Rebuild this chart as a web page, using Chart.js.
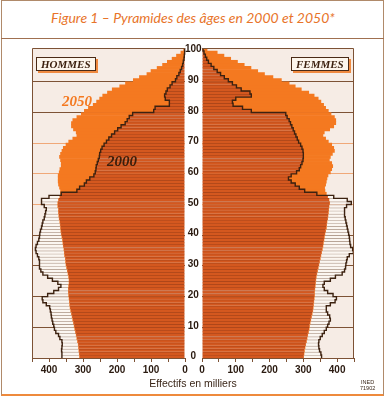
<!DOCTYPE html>
<html>
<head>
<meta charset="utf-8">
<script src="https://cdn.jsdelivr.net/npm/chart.js@4.4.0/dist/chart.umd.min.js"></script>
<style>
body { margin: 0; background: #fff; }
#wrap { position: relative; width: 386px; height: 399px; overflow: hidden; background: #fff; font-family: "Liberation Sans", Arial, sans-serif; }
#frame { position: absolute; left: 1px; top: 0; width: 381px; height: 393px; border: 1px solid #b08a6a; border-bottom: 2px solid #ee8a3c; }
#titlebar { position: absolute; left: 1px; top: 0; width: 383px; height: 38px; border-bottom: 1px solid #a07050; }
#title { position: absolute; left: 0; top: 9px; width: 386px; text-align: center; font-family: Lato, "Open Sans", sans-serif; font-style: italic; font-size: 14px; color: #e8742a; }
canvas { position: absolute; }
#cLeft { left: 0; top: 40px; }
#cRight { left: 190px; top: 40px; }
.sex { position: absolute; top: 57px; height: 12px; line-height: 12px; padding: 0 4px; border: 1px solid #4a2a15; background: #fdf6ec; box-shadow: 2px 2px 0 #f08a40; font-family: "Liberation Serif", serif; font-weight: bold; font-style: italic; font-size: 11px; color: #3a1e0c; }
.yr { position: absolute; font-family: "Liberation Serif", serif; font-weight: bold; font-style: italic; font-size: 15px; }
#xlab { position: absolute; left: 0; top: 377px; width: 386px; text-align: center; font-size: 10.5px; color: #3a2618; }
#ined { position: absolute; left: 360px; top: 380px; font-size: 5.5px; line-height: 5.5px; color: #3a2618; text-align: center; }
</style>
</head>
<body>
<div id="wrap">
  <div id="frame"></div>
  <div id="titlebar"></div>
  <div id="title">Figure 1 – Pyramides des âges en 2000 et 2050*</div>
  <canvas id="cLeft" width="202" height="345"></canvas>
  <canvas id="cRight" width="196" height="345"></canvas>
  <div class="sex" style="left:36px;">HOMMES</div>
  <div class="sex" style="left:291px;">FEMMES</div>
  <div class="yr" style="left:62px; top:93px; color:#f47920;">2050</div>
  <div class="yr" style="left:107px; top:153px; color:#3a1e0c;">2000</div>
  <div id="xlab">Effectifs en milliers</div>
  <div id="ined">INED<br>71902</div>
</div>
<script>
// ages 0..100
let ages = [0,1,2,3,4,5,6,7,8,9,10,11,12,13,14,15,16,17,18,19,20,21,22,23,24,25,26,27,28,29,30,
    31,32,33,34,35,36,37,38,39,40,41,42,43,44,45,46,47,48,49,50,51,52,53,54,55,56,57,58,59,60,
    61,62,63,64,65,66,67,68,69,70,71,72,73,74,75,76,77,78,79,80,81,82,83,84,85,86,87,88,89,90,
    91,92,93,94,95,96,97,98,99,100];

// effectifs en milliers, index = age
let men_2000 = [
    362,362,363,362,361,362,368,372,380,384,
    386,389,391,393,394,396,398,408,418,420,
    404,386,372,365,374,390,404,418,424,428,
    428,428,430,434,438,440,438,434,430,428,
    427,425,422,420,418,414,412,410,408,414,
    422,422,400,364,318,310,296,290,280,268,
    264,262,261,258,255,252,251,248,244,238,
    231,224,216,207,198,188,176,170,164,154,
    92,88,46,46,58,60,56,52,44,38,
    28,24,18,14,10,7,5,3,2,1,1];
let men_2050 = [
    310,311,312,313,314,316,318,320,322,324,
    326,328,330,332,334,336,338,339,340,341,
    342,343,343,342,341,341,342,344,346,348,
    350,351,352,354,355,356,358,359,360,362,
    364,365,366,367,368,370,371,372,372,374,
    374,372,368,366,366,369,372,373,373,373,
    370,368,364,364,366,369,366,362,358,350,
    342,330,318,320,328,334,334,330,318,305,
    296,284,270,260,251,242,228,214,192,175,
    152,134,112,100,82,66,52,38,25,12,4];
let women_2000 = [
    354,352,348,346,345,346,350,356,362,368,
    372,376,380,378,372,368,368,380,394,398,
    388,372,362,358,362,380,395,415,422,425,
    426,428,430,436,448,446,440,438,437,436,
    434,432,430,428,426,424,422,422,422,428,
    442,430,390,340,304,288,276,264,256,264,
    280,288,292,296,299,300,300,299,296,292,
    286,282,278,274,270,266,262,258,252,248,
    146,120,92,90,100,146,142,116,102,90,
    78,66,55,45,35,27,19,14,10,6,3];
let women_2050 = [
    301,302,303,305,307,309,311,313,315,317,
    318,320,322,324,326,328,329,330,331,332,
    333,333,334,335,336,337,338,340,342,344,
    346,348,350,352,354,356,358,359,361,362,
    364,366,368,369,370,372,373,374,375,376,
    378,376,372,368,364,363,366,368,370,373,
    380,384,387,384,377,380,386,392,390,384,
    374,366,358,362,378,390,396,396,392,382,
    374,366,360,352,344,332,316,294,276,258,
    235,210,185,165,145,125,105,85,65,45,15];

let x_ticks = [0, 100, 200, 300, 400];

let col_2050 = "#f47920";
let col_both = "#d4581f";
let col_both_line = "#a8441a";
let col_2000 = "#fbf6f1";
let col_2000_line = "#a89282";
let col_brown = "#7d5235";
let col_bg = "#f6ece5";

function split_sets(v2000, v2050) {
    let both = [], only50 = [], only00 = [];
    for (let i = 0; i < v2000.length; i++) {
        both.push(Math.min(v2000[i], v2050[i]));
        only50.push(Math.max(0, v2050[i] - v2000[i]));
        only00.push(Math.max(0, v2000[i] - v2050[i]));
    }
    return [
        { data: both, backgroundColor: col_both, borderColor: col_both_line,
          borderWidth: { top: 1, right: 0, bottom: 0, left: 0 }, borderSkipped: false },
        { data: only50, backgroundColor: col_2050, borderWidth: 0 },
        { data: only00, backgroundColor: col_2000, borderColor: col_2000_line,
          borderWidth: { top: 1, right: 0, bottom: 0, left: 0 }, borderSkipped: false },
    ];
}

function grid_color(ctx) {
    let i = ctx.index;
    if (i <= 0 || i >= 100 || i % 10 !== 0) return "rgba(0,0,0,0)";
    if (i >= 50 && i <= 70) return "#f0a878";
    return col_brown;
}

// beige plot background + frame of each half
let plotFrame = {
    id: 'plotFrame',
    beforeDraw: (chart, args, options) => {
        const {ctx, chartArea: a} = chart;
        ctx.save();
        ctx.fillStyle = col_bg;
        ctx.fillRect(a.left, a.top, a.right - a.left, a.bottom - a.top);
        ctx.restore();
    },
    afterDraw: (chart, args, options) => {
        const {ctx, chartArea: a} = chart;
        ctx.save();
        ctx.strokeStyle = col_brown;
        ctx.lineWidth = 1;
        ctx.beginPath();
        let xs = options.side === 'left' ? Math.round(a.left) + 0.5 : Math.round(a.right) - 0.5;
        ctx.moveTo(xs, a.bottom);
        ctx.lineTo(xs, Math.round(a.top) + 0.5);
        ctx.lineTo(options.side === 'left' ? a.right : a.left, Math.round(a.top) + 0.5);
        ctx.stroke();
        ctx.restore();
    }
};

// step outline of the 2000 pyramid
let outline2000 = {
    id: 'outline2000',
    afterDatasetsDraw: (chart, args, options) => {
        const {ctx} = chart;
        const xs = chart.scales.x, ys = chart.scales.y;
        const vals = options.values;
        const half = Math.abs(ys.getPixelForValue(1) - ys.getPixelForValue(0)) / 2;
        ctx.save();
        ctx.strokeStyle = "#3d2210";
        ctx.lineWidth = 1.4;
        ctx.beginPath();
        for (let i = 0; i < vals.length; i++) {
            let px = xs.getPixelForValue(vals[i]);
            let py = ys.getPixelForValue(i);
            if (i === 0) ctx.moveTo(px, py + half);
            else ctx.lineTo(px, py + half);
            ctx.lineTo(px, py - half);
        }
        ctx.stroke();
        ctx.restore();
    }
};

function make_options(side, values) {
    let left = side === 'left';
    return {
        responsive: false,
        animation: false,
        devicePixelRatio: 1,
        indexAxis: 'y',
        layout: { padding: left ? { left: 32, top: 8, right: 0, bottom: 0 } : { left: 12, top: 8, right: 32, bottom: 0 } },
        datasets: { bar: { categoryPercentage: 1, barPercentage: 1 } },
        scales: {
            x: {
                type: 'linear',
                reverse: left,
                min: 0, max: 450,
                stacked: true,
                afterFit: (s) => { s.height = 27; },
                grid: { drawOnChartArea: false, drawTicks: true, tickLength: 4, color: col_brown },
                border: { display: true, color: col_brown },
                ticks: {
                    stepSize: 50,
                    autoSkip: false,
                    padding: 2,
                    color: "#2a1a10",
                    font: { family: "Liberation Sans", size: 10, weight: "bold" },
                    maxRotation: 0,
                    minRotation: 0,
                    callback: (v) => x_ticks.includes(v) ? String(v) : '',
                },
            },
            y: {
                type: 'category',
                reverse: true,
                stacked: true,
                position: left ? 'right' : 'left',
                afterFit: (s) => { s.width = left ? 17 : 0; },
                grid: { color: grid_color, drawTicks: false, lineWidth: 1 },
                border: { display: false },
                ticks: {
                    display: left,
                    autoSkip: false,
                    crossAlign: 'center',
                    padding: 0,
                    color: "#2a1a10",
                    font: { family: "Liberation Sans", size: 10, weight: "bold" },
                    callback: function (v) {
                        let a = ages[v];
                        return a % 10 === 0 ? String(a) : '';
                    },
                },
            },
        },
        plugins: {
            legend: { display: false },
            tooltip: { enabled: false },
            plotFrame: { side: side },
            outline2000: { values: values },
        },
    };
}

new Chart(document.getElementById('cLeft'), {
    type: 'bar',
    data: { labels: ages.map(String), datasets: split_sets(men_2000, men_2050) },
    options: make_options('left', men_2000),
    plugins: [plotFrame, outline2000],
});

new Chart(document.getElementById('cRight'), {
    type: 'bar',
    data: { labels: ages.map(String), datasets: split_sets(women_2000, women_2050) },
    options: make_options('right', women_2000),
    plugins: [plotFrame, outline2000],
});
</script>
</body>
</html>
